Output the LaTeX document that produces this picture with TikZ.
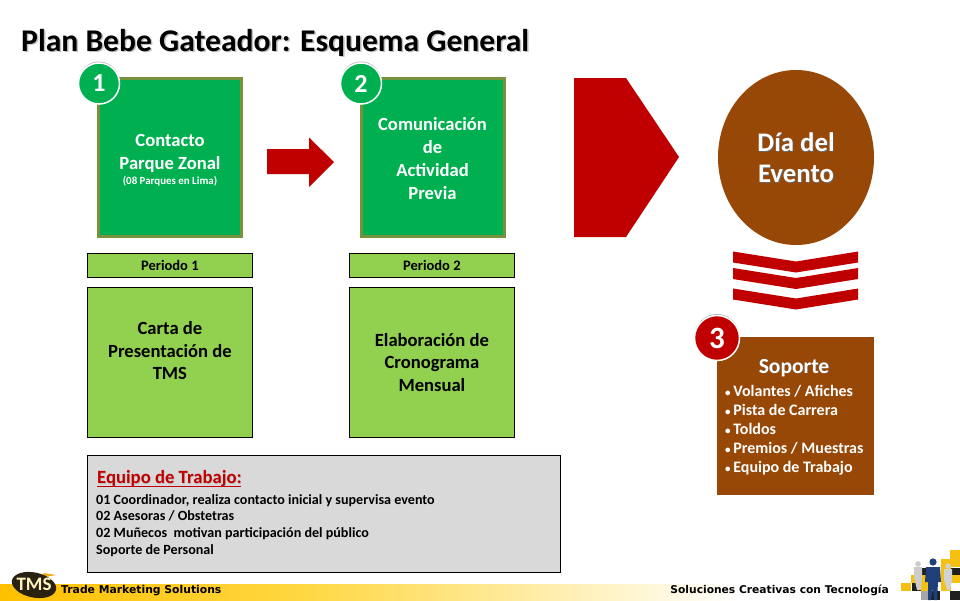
\documentclass[tikz,border=0pt]{standalone}
\usepackage{fontspec}
\setmainfont{Carlito}
\newfontfamily\tahomaish{DejaVu Sans}
\usetikzlibrary{shadows,calc,shapes.geometric}
\definecolor{grn}{HTML}{00B050}
\definecolor{olv}{HTML}{76923C}
\definecolor{lime}{HTML}{92D050}
\definecolor{redd}{HTML}{C00000}
\definecolor{brn}{HTML}{974706}
\definecolor{gry}{HTML}{D9D9D9}
\definecolor{gold}{HTML}{FFC000}
\definecolor{midgold}{HTML}{FFD740}
\definecolor{navy2}{HTML}{1F3F7A}
\definecolor{ylw}{HTML}{F5C010}
\definecolor{logodk}{HTML}{2A2210}
\definecolor{logotx}{HTML}{FFF2C0}
\tikzset{
 mainbox/.style={draw=olv,line width=3pt,fill=grn,minimum width=143pt,minimum height=158pt,anchor=north west,text=white,align=center,font=\bfseries\fontsize{18.6}{23}\selectfont,inner sep=0pt},
 lightbox/.style={draw=black,line width=0.8pt,fill=lime,anchor=north west,align=center,inner sep=0pt,font=\bfseries\fontsize{18.6}{22.5}\selectfont},
 period/.style={lightbox,minimum width=165pt,minimum height=24pt,font=\bfseries\fontsize{14.5}{15}\selectfont},
 badge/.style={circle,draw=white,line width=1.5pt,inner sep=0pt,text=white,font=\bfseries,drop shadow={shadow xshift=0pt,shadow yshift=1.5pt,opacity=.3,fill=black}},
 eventtxt/.style={align=center,inner sep=0pt,font=\bfseries\fontsize{26.8}{31}\selectfont},
 titletxt/.style={anchor=west,inner sep=0pt,font=\bfseries\fontsize{31.6}{34}\selectfont},
 teamhead/.style={anchor=west,inner sep=0pt,font=\bfseries\fontsize{18.7}{20}\selectfont},
 soptxt/.style={inner sep=0pt,font=\bfseries\fontsize{21.5}{22}\selectfont},
}
\newcommand{\blt}{{\fontsize{11}{11}\selectfont•}\,}
\begin{document}
\begin{tikzpicture}[x=1pt,y=-1pt]
\useasboundingbox (0,0) rectangle (960,600);
\fill[white] (0,0) rectangle (960,600);
% footer band
\shade[left color=gold,right color=midgold] (0,584) rectangle (300,600);
\shade[left color=midgold,right color=white] (300,584) rectangle (740,600);
% title
\node[titletxt,text=black!25] (titleb) at (22.5,44) {Plan Bebe Gateador: Esquema General};
\node[titletxt] (title) at (21,42.5) {Plan Bebe Gateador: Esquema General};
% main boxes
\node[mainbox] (b1) at (97,77) {Contacto\\Parque Zonal\\[-8pt]{\fontsize{10.9}{11}\selectfont (08 Parques en Lima)}\\[-27pt]};
\node[mainbox] (b2) at (359.5,77) {Comunicación\\de\\Actividad\\Previa\\[-24pt]};
% badges
\node[badge,minimum size=41pt,fill=grn,font=\bfseries\fontsize{26}{26}\selectfont] (n1) at (99,83.5) {1};
\node[badge,minimum size=41pt,fill=grn,font=\bfseries\fontsize{26}{26}\selectfont] (n2) at (361,83.5) {2};
% small arrow
\fill[redd] (267,149) -- (309,149) -- (309,137.5) -- (334,162) -- (309,187) -- (309,174) -- (267,174) -- cycle;
% large pentagon
\fill[redd] (574,78) -- (626,78) -- (679,157) -- (626,237) -- (574,237) -- cycle;
% periods
\node[period] (p1) at (87,253) {Periodo 1};
\node[period] (p2) at (349,253) {Periodo 2};
% light boxes
\node[lightbox,minimum width=165pt,minimum height=150pt] (c1) at (87,287) {Carta de\\Presentación de\\TMS\\[1pt]};
\node[lightbox,minimum width=165pt,minimum height=150pt] (c2) at (349,287) {Elaboración de\\Cronograma\\Mensual};
% team
\node[draw=black,line width=0.8pt,fill=gry,anchor=north west,minimum width=473pt,minimum height=117pt,inner sep=0pt] (team) at (87,455) {};
\node[teamhead,text=black!25] at (97.7,479.7) {Equipo de Trabajo:};
\node[teamhead,text=redd] (teamh) at (97,479) {Equipo de Trabajo:};
\draw[redd,line width=1pt] (97,486.5) -- (241,486.5);
\node[anchor=north west,inner sep=0pt,align=left,font=\bfseries\fontsize{14.1}{16.8}\selectfont] (teamt) at (96,494) {01 Coordinador, realiza contacto inicial y supervisa evento\\02 Asesoras / Obstetras\\02 Muñecos\ \ motivan participación del público\\Soporte de Personal};
% event
\node[ellipse,fill=brn,minimum width=156pt,minimum height=175pt,inner sep=0pt] (evbg) at (796,157.5) {};
\node[eventtxt,text=black!60] at (796.8,158.3) {Día del\\Evento};
\node[eventtxt,text=white] (ev) at (796,157.5) {Día del\\Evento};
% chevrons
\foreach \y in {251.5,268,288.5}{
 \fill[redd] (733,\y) -- (796,\y+10) -- (858,\y) -- (858,\y+11) -- (796,\y+21) -- (733,\y+11) -- cycle;
}
% support
\node[fill=brn,anchor=north west,minimum width=157pt,minimum height=158pt,inner sep=0pt] (s) at (717,337) {};
\node[badge,minimum size=45pt,fill=redd,font=\bfseries\fontsize{31}{31}\selectfont] (n3) at (717,338) {3};
\node[soptxt,text=black!60] at (794.6,368.6) {Soporte};
\node[soptxt,text=white] (st) at (794,368) {Soporte};
\node[anchor=north west,inner sep=0pt,text=white,align=left,font=\bfseries\fontsize{16}{19}\selectfont] (sl) at (725,385) {\blt Volantes / Afiches\\\blt Pista de Carrera\\\blt Toldos\\\blt Premios / Muestras\\\blt Equipo de Trabajo};
% footer
\fill[gold!70!brown] (56,575) -- (44,573) -- (40,578) -- cycle;
\fill[logodk,rotate around={-12:(34,585)}] (34,585) ellipse [x radius=22.5,y radius=12.5];
\node[text=logotx,inner sep=0pt,font=\bfseries\fontsize{19}{19}\selectfont] (tms) at (34,584) {TMS};
\node[anchor=west,inner sep=0pt,font=\tahomaish\bfseries\fontsize{10.8}{13}\selectfont,text=black] (tml) at (61,590.5) {Trade Marketing Solutions};
\node[anchor=east,inner sep=0pt,font=\tahomaish\bfseries\fontsize{10.7}{13}\selectfont] (scc) at (889,590.5) {Soluciones Creativas con Tecnología};
% squares
\fill[ylw] (901,583) rectangle (911,591);
\fill[ylw] (911,575) rectangle (917,583);
\fill[black!88] (912,583) rectangle (921,591);
\fill[ylw] (921,575) rectangle (930,591);
\fill[black!88] (922,568) rectangle (929,575);
\fill[gray!70] (921,591) rectangle (930,600);
\fill[black!88] (931,591) rectangle (940,600);
\fill[ylw] (941,559) rectangle (951,591);
\fill[ylw] (950,550) rectangle (960,567);
\fill[black!88] (951,568) rectangle (960,575);
\fill[ylw] (951,575) rectangle (960,583);
\fill[black!88] (950,591) rectangle (960,600);
% people
\fill[gray!40] (918,564) circle (2.8);
\fill[gray!40] (914,567) -- (922,567) -- (922,577) -- (921,590) -- (917,590) -- (914,577) -- cycle;
\fill[gray!35] (948,566) circle (2.8);
\fill[gray!35] (944,569) -- (952,569) -- (952,580) -- (950,590) -- (947,590) -- (944,580) -- cycle;
\fill[navy2] (933,562) circle (3.6);
\fill[navy2] (926,567) -- (940,567) -- (941,582) -- (938,582) -- (937,600) -- (934,600) -- (933,588) -- (931,600) -- (928,600) -- (928,582) -- (925,582) -- cycle;
\end{tikzpicture}
\end{document}
